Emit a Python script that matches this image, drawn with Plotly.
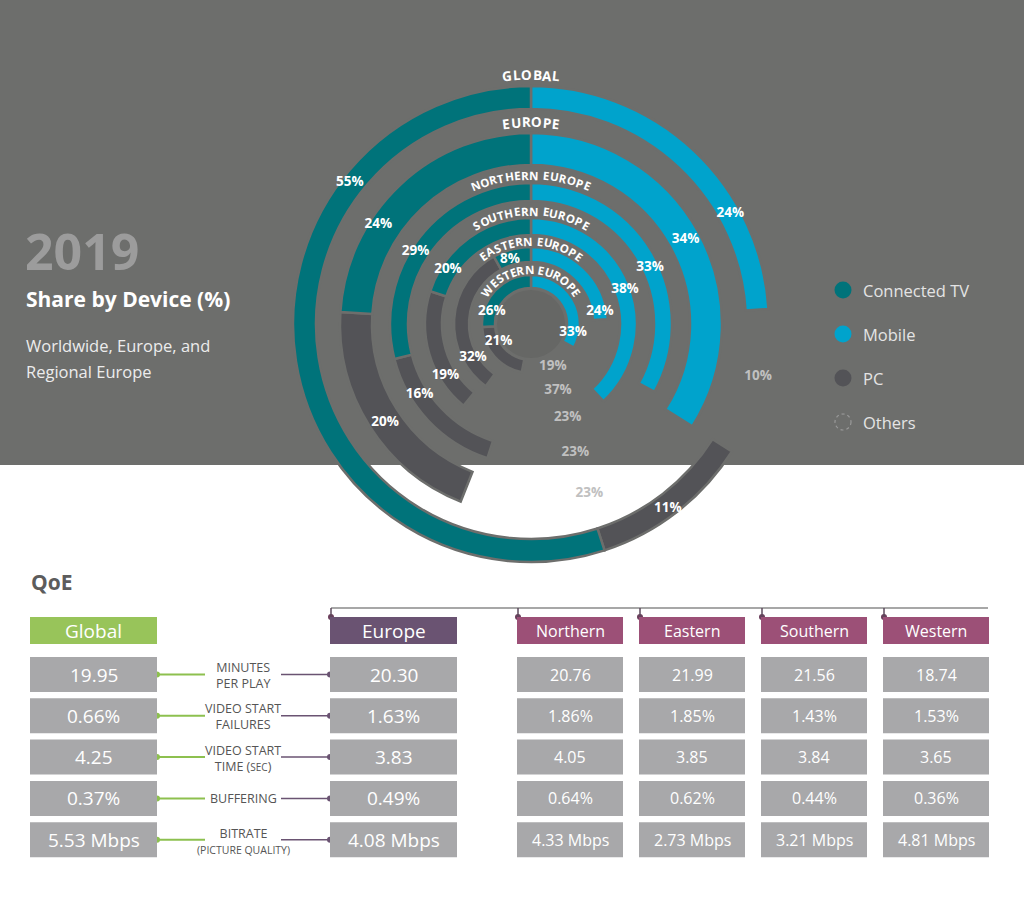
import numpy as np
import plotly.graph_objects as go

# ---------------- data ----------------
ring_names = ["GLOBAL", "EUROPE", "NORTHERN EUROPE", "SOUTHERN EUROPE",
              "EASTERN EUROPE", "WESTERN EUROPE"]
ctv_share = [55, 24, 29, 20, 8, 26]
mobile_share = [24, 34, 33, 38, 24, 33]
pc_share = [11, 20, 16, 19, 32, 21]
others_share = [10, 23, 23, 23, 37, 19]

legend_labels = ["Connected TV", "Mobile", "PC", "Others"]

qoe_columns = ["Global", "Europe", "Northern", "Eastern", "Southern", "Western"]
qoe_metrics = ["MINUTES<br>PER PLAY", "VIDEO START<br>FAILURES",
               "VIDEO START<br>TIME (<span style='font-size:10px'>SEC</span>)",
               "BUFFERING",
               "BITRATE<br><span style='font-size:10.5px'>(PICTURE QUALITY)</span>"]
minutes_per_play = [19.95, 20.30, 20.76, 21.99, 21.56, 18.74]
video_start_failures = [0.66, 1.63, 1.86, 1.85, 1.43, 1.53]
video_start_time = [4.25, 3.83, 4.05, 3.85, 3.84, 3.65]
buffering = [0.37, 0.49, 0.64, 0.62, 0.44, 0.36]
bitrate = [5.53, 4.08, 4.33, 2.73, 3.21, 4.81]

# ---------------- layout / style ----------------
W, H = 1024, 910
CX, CY = 531, 324
R_PX = 241
BG = "#6d6e6c"
TEAL = "#00737a"
BLUE = "#00a3cc"
PCC = "#535357"
OTH_TXT = "#c0c0c0"
FONT = "Open Sans"

ring_inner = [215, 159, 123, 89, 62, 36]
ring_outer = [238, 191, 141, 106, 77, 49]
title_r = [249, 202, 149, 113, 83, 55]
title_fs = [13.5, 13.5, 11.5, 11.5, 11.5, 11.5]

# label placement (angle clockwise from top, radius in px)
ctv_lab_ang = [308, 303, 302, 303, 342, 287]
mob_lab_ang = [61, 61.5, 64.5, 70, 80, 102]
pc_lab_ang = [143.5, 236, 237.6, 238.8, 240, 241]
oth_lab_ang = [103, 161, 161, 158.7, 158, 153]
ctv_lab_r = [230, 182, 136, 99, 68, 41]
mob_lab_r = [228, 176, 132, 100, 70, 43]
pc_lab_r = [230, 176, 132, 100, 67, 37]
oth_lab_r = [233, 179, 136, 101, 72, 48]

fig = go.Figure()

thick = [o - i for o, i in zip(ring_outer, ring_inner)]
deg = lambda v: np.array(v, dtype=float) * 3.6

mob_w = deg(mobile_share)
ctv_w = deg(ctv_share)
pc_w = deg(pc_share)
ctv_start = 360 - ctv_w
pc_start = ctv_start - pc_w

common = dict(base=ring_inner, r=thick,
              marker_line=dict(color=BG, width=2.5), hoverinfo="skip",
              showlegend=False)
# center disc
fig.add_trace(go.Barpolar(theta=[180], width=[360], base=[0], r=[34],
                          marker_color="#666765", marker_line_width=0,
                          hoverinfo="skip", showlegend=False))
fig.add_trace(go.Barpolar(theta=mob_w / 2, width=mob_w, marker_color=BLUE, **common))
fig.add_trace(go.Barpolar(theta=pc_start + pc_w / 2, width=pc_w, marker_color=PCC, **common))
fig.add_trace(go.Barpolar(theta=ctv_start + ctv_w / 2, width=ctv_w, marker_color=TEAL, **common))

lab_font = dict(family=FONT, size=13.5, color="white", weight="bold")
fig.add_trace(go.Scatterpolar(r=ctv_lab_r, theta=ctv_lab_ang, mode="text",
                              text=[f"{v}%" for v in ctv_share], textfont=lab_font,
                              hoverinfo="skip", showlegend=False))
fig.add_trace(go.Scatterpolar(r=mob_lab_r, theta=mob_lab_ang, mode="text",
                              text=[f"{v}%" for v in mobile_share], textfont=lab_font,
                              hoverinfo="skip", showlegend=False))
fig.add_trace(go.Scatterpolar(r=pc_lab_r, theta=pc_lab_ang, mode="text",
                              text=[f"{v}%" for v in pc_share], textfont=lab_font,
                              hoverinfo="skip", showlegend=False))
fig.add_trace(go.Scatterpolar(r=oth_lab_r, theta=oth_lab_ang, mode="text",
                              text=[f"{v}%" for v in others_share],
                              textfont=dict(family=FONT, size=13.5, color=OTH_TXT, weight="bold"),
                              hoverinfo="skip", showlegend=False))

annotations = []
shapes = []

# background band
shapes.append(dict(type="rect", xref="paper", yref="paper", x0=0, x1=1,
                   y0=1 - 465 / H, y1=1, fillcolor=BG, line_width=0, layer="below"))

# curved ring titles
WID = {"I": 0.3, "M": 0.86, "W": 0.95, " ": 0.3, "O": 0.78, "G": 0.78, "L": 0.55,
       "T": 0.6, "A": 0.7, "R": 0.66, "E": 0.58, "N": 0.74, "U": 0.72, "P": 0.62,
       "H": 0.74, "S": 0.6, "B": 0.66}


def curved(text, r, fs):
    ws = [WID.get(c, 0.68) * fs + 0.06 * fs for c in text]
    s = -sum(ws) / 2
    for c, w in zip(text, ws):
        th = (s + w / 2) / r
        s += w
        if c == " ":
            continue
        annotations.append(dict(x=CX + r * np.sin(th), y=CY - r * np.cos(th),
                                xref="x", yref="y", text=c, showarrow=False,
                                textangle=float(np.degrees(th)),
                                xanchor="center", yanchor="middle",
                                font=dict(family=FONT, size=fs, color="white", weight="bold")))


for name, r, fs in zip(ring_names, title_r, title_fs):
    curved(name, r, fs)

# left titles
annotations += [
    dict(x=23, y=251, text="2019", xanchor="left", yanchor="middle",
         font=dict(family=FONT, size=50, color="#9c9c9c", weight="bold")),
    dict(x=24, y=299, text="Share by Device (%)", xanchor="left", yanchor="middle",
         font=dict(family=FONT, size=21, color="white", weight="bold")),
    dict(x=24, y=345, text="Worldwide, Europe, and", xanchor="left", yanchor="middle",
         font=dict(family=FONT, size=16.5, color="#ececec")),
    dict(x=24, y=371, text="Regional Europe", xanchor="left", yanchor="middle",
         font=dict(family=FONT, size=16.5, color="#ececec")),
]

# legend
leg_y = [290, 334, 378, 422]
fig.add_trace(go.Scatter(x=[843] * 3, y=leg_y[:3], mode="markers", xaxis="x", yaxis="y",
                         marker=dict(size=17, color=[TEAL, BLUE, PCC], line_width=0),
                         hoverinfo="skip", showlegend=False))
shapes.append(dict(type="circle", xref="x", yref="y", x0=835, x1=851,
                   y0=leg_y[3] - 8, y1=leg_y[3] + 8,
                   line=dict(color="#9a9a9a", width=1.2, dash="dot")))
for lab, y in zip(legend_labels, leg_y):
    annotations.append(dict(x=861, y=y, text=lab, xanchor="left", yanchor="middle",
                            font=dict(family=FONT, size=16.5, color="#e4e4e4")))

# ---------------- QoE table ----------------
annotations.append(dict(x=29, y=582, text="QoE", xanchor="left", yanchor="middle",
                        font=dict(family=FONT, size=21, color="#5c5c5c", weight="bold")))
col_left = [30, 330, 517, 639, 761, 883]
col_w = [127, 127, 106, 106, 106, 106]
head_col = ["#98c45a", "#6a5372", "#9c5077", "#9c5077", "#9c5077", "#9c5077"]
head_fs = [19, 19, 16, 16, 16, 16]
HEAD_Y0, HEAD_Y1 = 617, 644
ROW_Y0, ROW_H, ROW_P = 657, 35, 41.3
CELL = "#a8a8aa"
GREEN = "#8dc04f"
PURP = "#6a5372"

rows = [
    [f"{v:.2f}" for v in minutes_per_play],
    [f"{v:.2f}%" for v in video_start_failures],
    [f"{v:.2f}" for v in video_start_time],
    [f"{v:.2f}%" for v in buffering],
    [f"{v:.2f} Mbps" for v in bitrate],
]

for j, name in enumerate(qoe_columns):
    x0, x1 = col_left[j], col_left[j] + col_w[j]
    shapes.append(dict(type="rect", xref="x", yref="y", x0=x0, x1=x1,
                       y0=HEAD_Y0, y1=HEAD_Y1, fillcolor=head_col[j], line_width=0))
    annotations.append(dict(x=(x0 + x1) / 2, y=(HEAD_Y0 + HEAD_Y1) / 2, text=name,
                            font=dict(family=FONT, size=head_fs[j], color="white")))
    for i, row in enumerate(rows):
        y0 = ROW_Y0 + i * ROW_P
        shapes.append(dict(type="rect", xref="x", yref="y", x0=x0, x1=x1,
                           y0=y0, y1=y0 + ROW_H, fillcolor=CELL, line_width=0))
        annotations.append(dict(x=(x0 + x1) / 2, y=y0 + ROW_H / 2, text=row[j],
                                font=dict(family=FONT, size=head_fs[j], color="white")))

dot_x, dot_y, dot_c = [], [], []
for i, met in enumerate(qoe_metrics):
    yc = ROW_Y0 + i * ROW_P + ROW_H / 2
    annotations.append(dict(x=243, y=yc + (1 if "<br>" in met else 0), text=met,
                            font=dict(family=FONT, size=12.5, color="#555555"),
                            align="center"))
    shapes.append(dict(type="line", xref="x", yref="y", x0=157, x1=205, y0=yc, y1=yc,
                       line=dict(color=GREEN, width=2)))
    shapes.append(dict(type="line", xref="x", yref="y", x0=281, x1=330, y0=yc, y1=yc,
                       line=dict(color=PURP, width=1.5)))
    dot_x += [157, 330]
    dot_y += [yc, yc]
    dot_c += [GREEN, PURP]

# bracket over Europe and the regions
BR_Y = 608
shapes.append(dict(type="line", xref="x", yref="y", x0=331, x1=988, y0=BR_Y, y1=BR_Y,
                   line=dict(color="#8a8a8a", width=1.5)))
for j in range(1, 6):
    xx = col_left[j] + 1
    shapes.append(dict(type="line", xref="x", yref="y", x0=xx, x1=xx, y0=BR_Y, y1=HEAD_Y0,
                       line=dict(color="#5d4a5c", width=1.5)))
    dot_x.append(xx)
    dot_y.append(HEAD_Y0)
    dot_c.append("#6b3f5c")

fig.add_trace(go.Scatter(x=dot_x, y=dot_y, mode="markers", xaxis="x", yaxis="y",
                         marker=dict(size=6, color=dot_c, line_width=0),
                         hoverinfo="skip", showlegend=False))

for a in annotations:
    a.setdefault("xref", "x")
    a.setdefault("yref", "y")
    a.setdefault("showarrow", False)

fig.update_layout(
    width=W, height=H, margin=dict(l=0, r=0, t=0, b=0),
    paper_bgcolor="white", plot_bgcolor="rgba(0,0,0,0)",
    xaxis=dict(range=[0, W], domain=[0, 1], visible=False, fixedrange=True),
    yaxis=dict(range=[H, 0], domain=[0, 1], visible=False, fixedrange=True),
    polar=dict(
        domain=dict(x=[(CX - R_PX) / W, (CX + R_PX) / W],
                    y=[1 - (CY + R_PX) / H, 1 - (CY - R_PX) / H]),
        bgcolor="rgba(0,0,0,0)", hole=0,
        radialaxis=dict(range=[0, R_PX], visible=False, showgrid=False),
        angularaxis=dict(rotation=90, direction="clockwise", visible=False,
                         showgrid=False),
    ),
    shapes=shapes, annotations=annotations, showlegend=False,
)

fig.write_html("out.html", config={"displayModeBar": False},
               post_script="document.body.style.margin='0px';document.body.style.overflow='hidden';")
